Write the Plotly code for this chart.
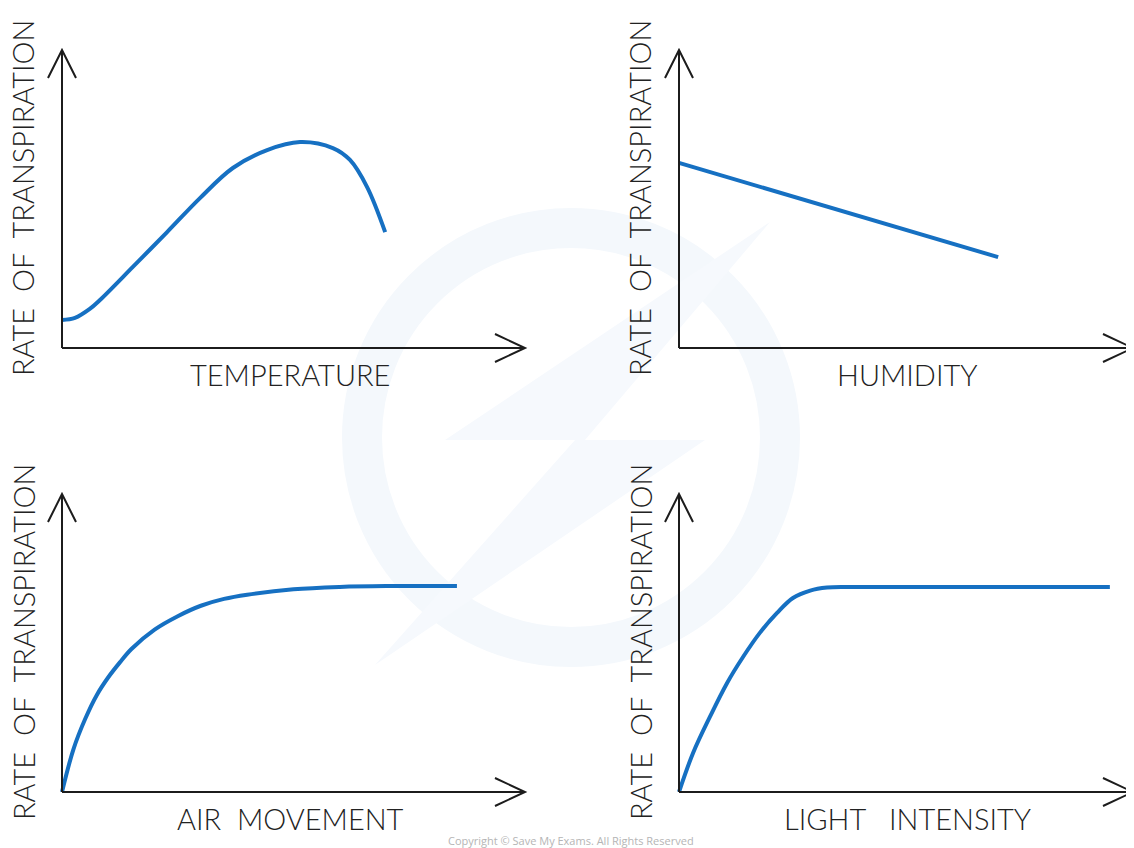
import plotly.graph_objects as go

# page offset: the plot div sits 8px inside the page (body margin)
OFF = 8
W, H = 1134 - OFF, 848 - OFF

# ---- data (arbitrary units, axes run 0..10) ----
temp_x = [0.0, 0.28, 0.60, 0.82, 1.53, 2.27, 2.98, 3.69, 4.43, 5.14, 5.85, 6.22, 6.59, 6.98]
temp_y = [0.94, 1.01, 1.31, 1.61, 2.72, 3.89, 5.03, 6.04, 6.64, 6.91, 6.71, 6.31, 5.40, 3.89]

hum_x = [0.0, 7.03]
hum_y = [6.21, 3.05]

air_x = [0.0, 0.25, 0.5, 0.75, 1.0, 1.25, 1.5, 2.0, 2.5, 3.0, 3.5, 4.0, 5.0, 6.0, 7.0, 8.53]
air_y = [0.0, 1.45, 2.45, 3.25, 3.85, 4.35, 4.8, 5.45, 5.9, 6.25, 6.48, 6.62, 6.80, 6.88, 6.91, 6.91]

light_x = [0.0, 0.31, 0.68, 1.06, 1.41, 1.78, 2.16, 2.51, 2.89, 3.26, 3.7, 5.0, 7.0, 9.49]
light_y = [0.0, 1.31, 2.52, 3.66, 4.53, 5.34, 6.01, 6.51, 6.76, 6.86, 6.88, 6.88, 6.88, 6.88]

NB = "\u00a0"
x_labels = ["TEMPERATURE", "HUMIDITY", f"AIR{NB * 2}MOVEMENT", f"LIGHT{NB * 3}INTENSITY"]
y_label = f"RATE{NB * 2}OF{NB * 2}TRANSPIRATION"

series = [(temp_x, temp_y, "spline"), (hum_x, hum_y, "linear"),
          (air_x, air_y, "spline"), (light_x, light_y, "spline")]

# ---- layout geometry (page pixels): origin and arrow tips ----
panels = [
    dict(ox=62, oy=348, tx=525, ty=50),
    dict(ox=679, oy=348, tx=1133, ty=50),
    dict(ox=62, oy=792, tx=525, ty=494),
    dict(ox=679, oy=792, tx=1133, ty=494),
]

LINE = "#1670c2"
AXIS = "#1c1c1c"
TEXT = "#222222"
FONT = "Lato"


def px(x):
    return (x - OFF) / W


def py(y):
    return 1 - (y - OFF) / H


fig = go.Figure()
shapes = []
annotations = []

# faint watermark
shapes.append(dict(type="circle", xref="paper", yref="paper", layer="below",
                   x0=px(362), x1=px(780), y0=py(647), y1=py(228),
                   line=dict(color="#f4f8fc", width=40), fillcolor="rgba(0,0,0,0)"))
bolt = [(770, 222), (445, 440), (575, 440), (375, 665), (705, 440), (585, 440), (770, 222)]
path = "M " + " L ".join(f"{px(x):.4f},{py(y):.4f}" for x, y in bolt) + " Z"
shapes.append(dict(type="path", xref="paper", yref="paper", layer="below", path=path,
                   fillcolor="#f6f9fd", line=dict(width=0)))

for i, (p, (xs, ys, shp)) in enumerate(zip(panels, series)):
    n = "" if i == 0 else str(i + 1)
    sx = (p["tx"] - p["ox"]) / 10.0
    sy = (p["oy"] - p["ty"]) / 10.0
    padL, padR = 22, min(22, (W + OFF) - p["tx"])
    padB, padT = 22, 8
    xdom = [px(p["ox"] - padL), px(p["tx"] + padR)]
    ydom = [py(p["oy"] + padB), py(p["ty"] - padT)]
    xr = [-padL / sx, 10 + padR / sx]
    yr = [-padB / sy, 10 + padT / sy]
    fig.update_layout(**{
        f"xaxis{n}": dict(domain=xdom, range=xr, visible=False, fixedrange=True,
                          anchor=f"y{n}"),
        f"yaxis{n}": dict(domain=ydom, range=yr, visible=False, fixedrange=True,
                          anchor=f"x{n}"),
    })
    xref, yref = f"x{n}", f"y{n}"
    ax_path = (f"M 0,0 L 0,10 M {-14 / sx},{10 - 28 / sy} L 0,10 L {14 / sx},{10 - 28 / sy} "
               f"M 0,0 L 10,0 M {10 - 30 / sx},{14 / sy} L 10,0 L {10 - 30 / sx},{-14 / sy}")
    shapes.append(dict(type="path", xref=xref, yref=yref, path=ax_path,
                       line=dict(color=AXIS, width=2), layer="above"))
    fig.add_trace(go.Scatter(x=xs, y=ys, mode="lines", xaxis=xref, yaxis=yref,
                             line=dict(color=LINE, width=4, shape=shp, smoothing=1.0),
                             hoverinfo="skip", showlegend=False))
    annotations.append(dict(text=x_labels[i], xref="paper", yref="paper",
                            x=px(p["ox"] + 228), y=py(p["oy"] + 26),
                            xanchor="center", yanchor="middle", showarrow=False,
                            font=dict(family=FONT, size=29, color=TEXT, weight=300)))
    annotations.append(dict(text=y_label, xref="paper", yref="paper",
                            x=px(p["ox"] - 39), y=py(p["oy"] - 150),
                            xanchor="center", yanchor="middle", showarrow=False,
                            textangle=-90,
                            font=dict(family=FONT, size=29, color=TEXT, weight=300)))

annotations.append(dict(text="Copyright © Save My Exams. All Rights Reserved",
                        xref="paper", yref="paper", x=px(571), y=py(840),
                        xanchor="center", yanchor="middle", showarrow=False,
                        font=dict(family="Open Sans", size=11, color="#b5b5b5")))

fig.update_layout(width=W, height=H, margin=dict(l=0, r=0, t=0, b=0),
                  paper_bgcolor="white", plot_bgcolor="rgba(0,0,0,0)",
                  shapes=shapes, annotations=annotations, showlegend=False)

fig.write_html("out.html", config={"displayModeBar": False})
